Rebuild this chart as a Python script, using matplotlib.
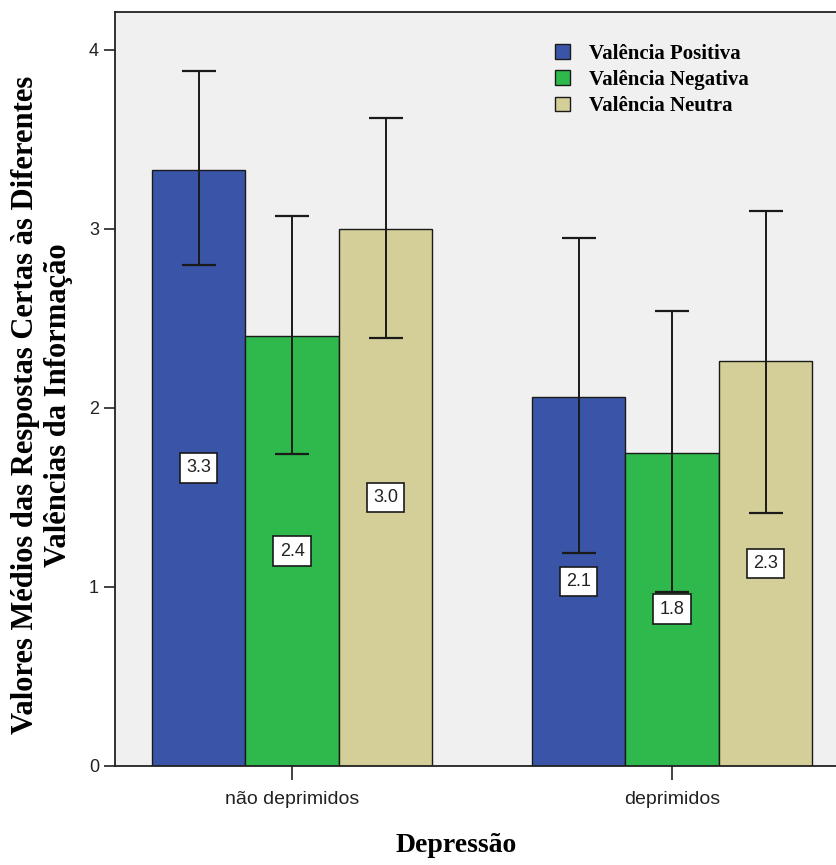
import matplotlib.pyplot as plt
import numpy as np

groups = ["não deprimidos", "deprimidos"]
series = ["Valência Positiva", "Valência Negativa", "Valência Neutra"]
means = [[3.33, 2.06], [2.40, 1.75], [3.00, 2.26]]
err_low = [[2.80, 1.19], [1.74, 0.97], [2.39, 1.41]]
err_high = [[3.88, 2.95], [3.07, 2.54], [3.62, 3.10]]
value_labels = [["3.3", "2.1"], ["2.4", "1.8"], ["3.0", "2.3"]]
colors = ["#3a55a8", "#2fb84b", "#d4cf98"]

fig = plt.figure(figsize=(8.37, 8.65), dpi=100)
ax = fig.add_axes([0.1374, 0.1145, 0.8626, 0.8715])
ax.set_facecolor("#f0f0f0")

x = np.arange(len(groups))
w = 0.246
for i, name in enumerate(series):
    pos = x + (i - 1) * w
    m = np.array(means[i])
    ax.bar(pos, m, width=w, color=colors[i], edgecolor="#1a1a1a", linewidth=1.0,
           label=name, zorder=2)
    yerr = [m - np.array(err_low[i]), np.array(err_high[i]) - m]
    ax.errorbar(pos, m, yerr=yerr, fmt="none", ecolor="#1a1a1a", elinewidth=1.4,
                capsize=12, capthick=1.6, zorder=3)
    for j in range(len(groups)):
        ax.text(pos[j], m[j] / 2, value_labels[i][j], ha="center", va="center",
                fontsize=13, family="Liberation Sans", color="#222222", zorder=4,
                bbox=dict(boxstyle="square,pad=0.35", fc="white", ec="#1a1a1a", lw=1.2))

ax.set_xlim(-0.466, 1.434)
ax.set_ylim(0, 4.21)
ax.set_yticks([0, 1, 2, 3, 4])
ax.set_xticks(x)
ax.set_xticklabels(groups, family="Liberation Sans", fontsize=14)
for lab in ax.get_yticklabels():
    lab.set_family("Liberation Sans")
    lab.set_fontsize(13)
ax.tick_params(axis="both", direction="out", length=8, width=1.2, colors="#222222",
               labelcolor="#222222")
ax.tick_params(axis="x", length=10, pad=8)
ax.spines["right"].set_visible(False)
for s in ["left", "top", "bottom"]:
    ax.spines[s].set_linewidth(1.3)
    ax.spines[s].set_color("#222222")

# axis titles placed on the figure
fig.text(42 / 837, 1 - 405 / 865,
         "Valores Médios das Respostas Certas às Diferentes\nValências da Informação",
         rotation=90, ha="center", va="center", multialignment="center",
         family="Liberation Serif", fontweight="bold", fontsize=22, linespacing=1.2)
fig.text(456 / 837, 1 - 845 / 865, "Depressão", ha="center", va="center",
         family="Liberation Serif", fontweight="bold", fontsize=20)

leg = ax.legend(loc="upper left", bbox_to_anchor=(0.584, 0.983), frameon=False,
                prop={"family": "Liberation Serif", "weight": "bold", "size": 15},
                handlelength=0.7, handleheight=0.7, handletextpad=0.9,
                labelspacing=0.3)

fig.savefig("out.png", dpi=100)
